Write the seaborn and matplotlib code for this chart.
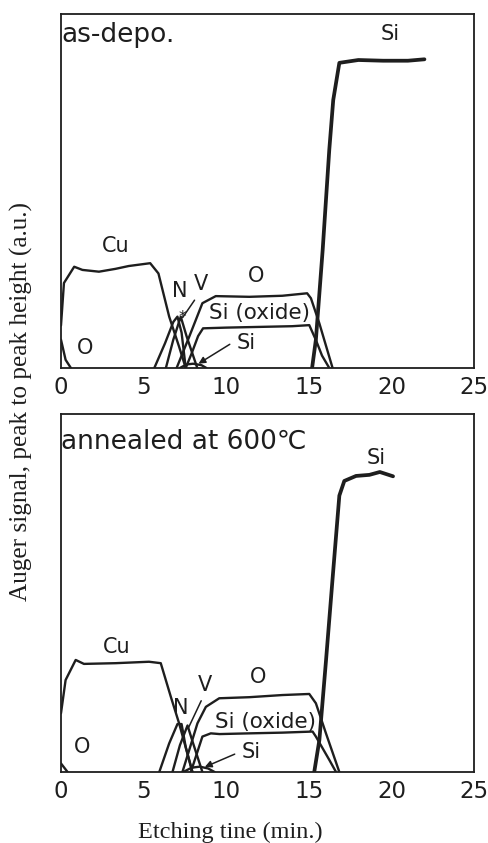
import numpy as np
import pandas as pd
import matplotlib
matplotlib.use("Agg")
import matplotlib.pyplot as plt
import seaborn as sns

# ---------------- data ----------------
ticks_x = [0, 5, 10, 15, 20, 25]

# as-deposited panel
top_cu_x = [0.0, 0.18, 0.8, 1.3, 2.3, 3.3, 4.1, 5.4, 5.9, 6.55, 7.15, 7.55]
top_cu_y = [0.12, 0.24, 0.286, 0.277, 0.272, 0.28, 0.288, 0.296, 0.267, 0.145, 0.06, 0.0]
top_o1_x = [0.0, 0.28, 0.6]
top_o1_y = [0.08, 0.023, 0.0]
top_n_x = [5.65, 6.3, 6.8, 7.05, 7.3, 7.55]
top_n_y = [0.0, 0.07, 0.13, 0.145, 0.1, 0.0]
top_v_x = [6.35, 6.8, 7.25, 7.6, 8.25]
top_v_y = [0.0, 0.08, 0.145, 0.09, 0.0]
top_o_x = [7.0, 7.76, 8.56, 9.37, 11.4, 13.4, 14.9, 15.13, 15.64, 16.44]
top_o_y = [0.0, 0.088, 0.183, 0.203, 0.201, 0.204, 0.211, 0.197, 0.126, 0.0]
top_siox_x = [7.55, 7.9, 8.3, 8.6, 10.0, 12.0, 14.0, 15.03, 15.43, 15.8, 16.24]
top_siox_y = [0.0, 0.04, 0.09, 0.112, 0.114, 0.116, 0.118, 0.121, 0.079, 0.035, 0.0]
top_sib_x = [7.2, 7.6, 8.0, 8.5, 8.8]
top_sib_y = [0.0, 0.01, 0.012, 0.008, 0.0]
top_si_x = [15.2, 15.43, 15.84, 16.24, 16.48, 16.85, 18.0, 19.5, 21.0, 22.0]
top_si_y = [0.0, 0.08, 0.333, 0.616, 0.757, 0.862, 0.87, 0.868, 0.868, 0.872]

# annealed panel
bot_cu_x = [0.0, 0.28, 0.89, 1.39, 3.31, 5.33, 6.04, 6.65, 7.15, 7.96]
bot_cu_y = [0.164, 0.257, 0.313, 0.302, 0.304, 0.308, 0.304, 0.21, 0.136, 0.0]
bot_o1_x = [0.0, 0.4]
bot_o1_y = [0.024, 0.0]
bot_n_x = [5.95, 6.55, 7.05, 7.3, 7.55, 7.95]
bot_n_y = [0.0, 0.08, 0.134, 0.134, 0.07, 0.0]
bot_v_x = [6.75, 7.2, 7.66, 8.0, 8.56]
bot_v_y = [0.0, 0.075, 0.13, 0.08, 0.0]
bot_o_x = [7.35, 7.76, 8.26, 8.77, 9.58, 11.4, 13.4, 15.03, 15.43, 16.04, 16.85]
bot_o_y = [0.0, 0.061, 0.136, 0.182, 0.206, 0.209, 0.215, 0.218, 0.192, 0.108, 0.0]
bot_siox_x = [7.86, 8.56, 9.07, 9.6, 11.4, 13.4, 15.23, 15.43, 16.24, 16.65]
bot_siox_y = [0.0, 0.099, 0.108, 0.106, 0.108, 0.11, 0.113, 0.099, 0.034, 0.0]
bot_sib_x = [7.4, 7.9, 8.4, 8.9, 9.3]
bot_sib_y = [0.0, 0.012, 0.015, 0.01, 0.0]
bot_si_x = [15.33, 15.64, 16.04, 16.44, 16.85, 17.15, 17.86, 18.67, 19.3, 20.1]
bot_si_y = [0.0, 0.089, 0.31, 0.54, 0.772, 0.813, 0.827, 0.83, 0.838, 0.826]

series = {
    "top": {"Cu": (top_cu_x, top_cu_y), "O1": (top_o1_x, top_o1_y),
            "N": (top_n_x, top_n_y), "V": (top_v_x, top_v_y),
            "O": (top_o_x, top_o_y), "Siox": (top_siox_x, top_siox_y),
            "Sib": (top_sib_x, top_sib_y), "Si": (top_si_x, top_si_y)},
    "bot": {"Cu": (bot_cu_x, bot_cu_y), "O1": (bot_o1_x, bot_o1_y),
            "N": (bot_n_x, bot_n_y), "V": (bot_v_x, bot_v_y),
            "O": (bot_o_x, bot_o_y), "Siox": (bot_siox_x, bot_siox_y),
            "Sib": (bot_sib_x, bot_sib_y), "Si": (bot_si_x, bot_si_y)},
}
rows = []
for panel, d in series.items():
    for name, (xs, ys) in d.items():
        for i, (xv, yv) in enumerate(zip(xs, ys)):
            rows.append((panel, name, i, xv, yv))
df = pd.DataFrame(rows, columns=["panel", "series", "order", "x", "y"])

titles = {"top": "as-depo.", "bot": "annealed at 600\u2103"}

# ---------------- style ----------------
sns.set_style("white")
plt.rcParams["font.family"] = ["DejaVu Sans", "Noto Sans CJK JP"]
INK = "#1e1e1e"

fig = plt.figure(figsize=(4.89, 8.43), dpi=100)
ax_top = fig.add_axes([0.1247, 0.5635, 0.8446, 0.4199])
ax_bot = fig.add_axes([0.1247, 0.0842, 0.8446, 0.4247])

for key, ax in (("top", ax_top), ("bot", ax_bot)):
    sub = df[df.panel == key]
    thin = sub[sub.series != "Si"]
    sns.lineplot(data=thin, x="x", y="y", units="series", estimator=None,
                 sort=False, color=INK, lw=1.7, ax=ax, legend=False)
    sns.lineplot(data=sub[sub.series == "Si"], x="x", y="y", estimator=None,
                 sort=False, color=INK, lw=2.7, ax=ax, legend=False)
    ax.set_xlim(0, 25)
    ax.set_ylim(0, 1)
    ax.set_xticks(ticks_x)
    ax.set_xticklabels([str(t) for t in ticks_x])
    ax.set_yticks([])
    ax.set_xlabel("")
    ax.set_ylabel("")
    ax.tick_params(axis="x", length=0, pad=6, labelsize=16.5, colors=INK)
    for sp in ax.spines.values():
        sp.set_visible(True)
        sp.set_color(INK)
        sp.set_linewidth(1.3)
    ax.text(0.0, 0.94 if key == "top" else 0.922, titles[key],
            transform=ax.transAxes, ha="left", va="center", fontsize=19,
            color=INK)

lab = dict(fontsize=15, color=INK, ha="center", va="center")

# top panel labels
ax_top.text(19.9, 0.943, "Si", **lab)
ax_top.text(3.33, 0.345, "Cu", **lab)
ax_top.text(1.45, 0.056, "O", **lab)
ax_top.text(7.2, 0.218, "N", **lab)
ax_top.text(8.48, 0.237, "V", **lab)
ax_top.text(11.8, 0.26, "O", **lab)
ax_top.text(12.0, 0.155, "Si (oxide)", fontsize=15.5, color=INK, ha="center", va="center")
ax_top.text(11.2, 0.07, "Si", **lab)
ax_top.text(7.33, 0.142, "*", fontsize=11, color=INK, ha="center", va="center")
ax_top.annotate("", xy=(7.27, 0.136), xytext=(8.18, 0.198),
                arrowprops=dict(arrowstyle="-", color=INK, lw=1.1))
ax_top.annotate("", xy=(8.18, 0.008), xytext=(10.36, 0.071),
                arrowprops=dict(arrowstyle="-|>", color=INK, lw=1.1, mutation_scale=10))

# bottom panel labels
ax_bot.text(19.1, 0.877, "Si", **lab)
ax_bot.text(3.39, 0.349, "Cu", **lab)
ax_bot.text(1.27, 0.07, "O", **lab)
ax_bot.text(7.27, 0.18, "N", **lab)
ax_bot.text(8.73, 0.243, "V", **lab)
ax_bot.text(11.9, 0.265, "O", **lab)
ax_bot.text(12.36, 0.14, "Si (oxide)", fontsize=15.5, color=INK, ha="center", va="center")
ax_bot.text(11.5, 0.056, "Si", **lab)
ax_bot.annotate("", xy=(7.65, 0.117), xytext=(8.56, 0.206),
                arrowprops=dict(arrowstyle="-", color=INK, lw=1.1))
ax_bot.annotate("", xy=(8.55, 0.011), xytext=(10.67, 0.053),
                arrowprops=dict(arrowstyle="-|>", color=INK, lw=1.1, mutation_scale=10))

serif = ["Liberation Serif", "DejaVu Serif"]
fig.text(0.043, 0.524, "Auger signal, peak to peak height (a.u.)", rotation=90,
         ha="center", va="center", fontsize=18.2, family=serif, color=INK)
fig.text(0.47, 0.012, "Etching tine (min.)", ha="center", va="center",
         fontsize=17.5, family=serif, color=INK)

fig.savefig("out.png", dpi=100)
